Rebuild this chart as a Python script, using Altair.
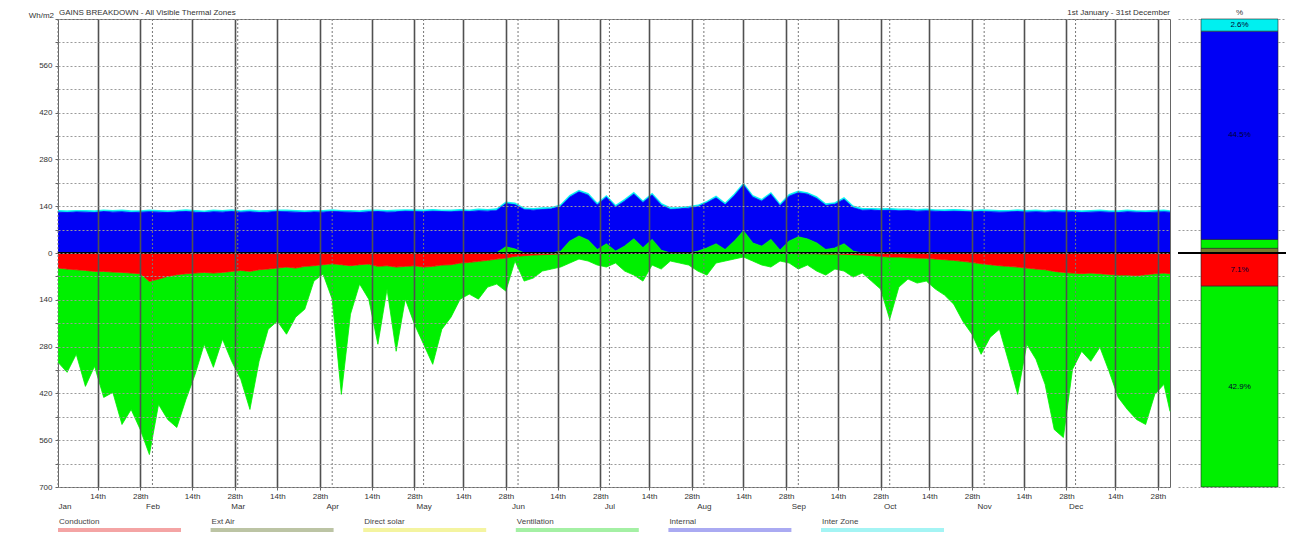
import altair as alt
import pandas as pd

FONT = "Liberation Sans"

title_text = "GAINS BREAKDOWN - All Visible Thermal Zones"
period_text = "1st January - 31st December"
unit_text = "Wh/m2"

month_names = ["Jan", "Feb", "Mar", "Apr", "May", "Jun", "Jul", "Aug", "Sep", "Oct", "Nov", "Dec"]
month_start_day = [0, 31, 59, 90, 120, 151, 181, 212, 243, 273, 304, 334]
tick_offsets = [13, 27]          # 14th and 28th of each month (day index)
tick_names = ["14th", "28th"]
y_tick_values = [-700, -630, -560, -490, -420, -350, -280, -210, -140, -70, 0,
                 70, 140, 210, 280, 350, 420, 490, 560, 630, 700]

# sample days (every third day of the year, plus the last day)
days = list(range(0, 364, 3)) + [365]

internal = [
    122, 121, 123, 122, 121, 124, 122, 123, 121, 122,
    123, 122, 121, 123, 124, 122, 121, 123, 122, 124,
    122, 123, 121, 122, 124, 123, 122, 121, 123, 122,
    124, 123, 122, 121, 123, 124, 122, 123, 125, 124,
    123, 125, 124, 123, 125, 124, 126, 125, 127, 130,
    132, 130, 128, 130, 132, 134, 132, 133, 135, 133,
    140, 132, 135, 134, 136, 133, 135, 130, 132, 134,
    133, 135, 138, 134, 136, 138, 137, 135, 136, 133,
    135, 132, 134, 133, 132, 131, 133, 130, 128, 129,
    127, 128, 126, 127, 125, 126, 125, 124, 125, 124,
    123, 124, 123, 122, 123, 124, 122, 123, 122, 123,
    122, 123, 121, 122, 123, 122, 121, 123, 122, 121,
    122, 123, 122]

inter_zone = [
    5, 5, 4, 5, 5, 4, 5, 5, 5, 4,
    5, 5, 5, 4, 5, 5, 4, 5, 5, 5,
    4, 5, 5, 5, 4, 5, 5, 5, 4, 5,
    5, 4, 5, 5, 5, 4, 5, 5, 4, 5,
    5, 5, 4, 5, 5, 4, 5, 5, 5, 4,
    5, 4, 5, 5, 4, 5, 5, 4, 5, 5,
    4, 5, 5, 5, 4, 5, 5, 5, 4, 5,
    5, 4, 5, 5, 5, 4, 5, 5, 4, 5,
    5, 5, 4, 5, 5, 4, 5, 5, 5, 4,
    5, 5, 5, 4, 5, 5, 4, 5, 5, 5,
    4, 5, 5, 5, 4, 5, 5, 5, 4, 5,
    5, 4, 5, 5, 5, 4, 5, 5, 4, 5,
    5, 5, 4]

ventilation_gain = [
    0, 0, 0, 0, 0, 0, 0, 0, 0, 0,
    0, 0, 0, 0, 0, 0, 0, 0, 0, 0,
    0, 0, 0, 0, 0, 0, 0, 0, 0, 0,
    0, 0, 0, 0, 0, 0, 0, 0, 0, 0,
    0, 0, 0, 0, 0, 0, 0, 0, 0, 18,
    12, 0, 0, 0, 0, 5, 35, 50, 38, 10,
    27, 5, 20, 42, 15, 40, 8, 0, 0, 0,
    5, 15, 27, 10, 35, 66, 30, 20, 40, 8,
    35, 48, 42, 30, 10, 15, 27, 5, 0, 0,
    0, 0, 0, 0, 0, 0, 0, 0, 0, 0,
    0, 0, 0, 0, 0, 0, 0, 0, 0, 0,
    0, 0, 0, 0, 0, 0, 0, 0, 0, 0,
    0, 0, 0]

# losses (magnitudes, drawn below zero)
conduction_loss = [
    45, 48, 50, 52, 55, 55, 57, 58, 60, 62,
    85, 78, 70, 65, 62, 60, 58, 60, 58, 55,
    52, 55, 50, 48, 45, 42, 45, 40, 38, 35,
    32, 35, 38, 35, 33, 40, 38, 42, 40, 38,
    42, 40, 36, 35, 30, 28, 25, 22, 18, 15,
    10, 8, 6, 5, 4, 3, 2, 2, 2, 1,
    1, 1, 1, 0, 0, 0, 0, 0, 0, 0,
    1, 0, 0, 0, 0, 0, 0, 0, 0, 1,
    1, 2, 2, 2, 3, 3, 4, 5, 6, 8,
    10, 12, 12, 14, 15, 16, 18, 20, 22, 25,
    28, 32, 35, 38, 40, 42, 45, 48, 50, 55,
    58, 60, 62, 60, 62, 64, 66, 66, 68, 65,
    62, 60, 62]

ventilation_loss = [
    282, 309, 253, 347, 284, 377, 360, 455, 408, 466,
    518, 375, 428, 457, 376, 303, 215, 282, 200, 269,
    326, 413, 274, 180, 159, 201, 147, 128, 46, 28,
    106, 388, 145, 58, 105, 233, 70, 252, 98, 175,
    231, 293, 192, 157, 108, 95, 113, 80, 75, 99,
    14, 76, 69, 49, 44, 39, 28, 16, 22, 35,
    41, 29, 53, 66, 84, 36, 48, 24, 30, 36,
    53, 66, 30, 24, 18, 12, 24, 36, 42, 23,
    29, 46, 34, 52, 63, 45, 50, 67, 54, 76,
    98, 186, 90, 64, 75, 68, 90, 106, 131, 179,
    215, 271, 217, 190, 284, 381, 228, 270, 343, 473,
    494, 288, 232, 264, 220, 290, 366, 402, 430, 448,
    361, 333, 412]

series_names = ["Ventilation gain", "Internal", "Inter Zone", "Conduction", "Ventilation loss"]
series_colors = ["#00f000", "#0000f5", "#00f0f0", "#ff0000", "#00f000"]

# right-hand percentage bar
bar_names = ["Ext Air", "Ventilation (gain)", "Internal", "Inter Zone", "Conduction", "Ventilation (loss)"]
bar_pct = [1.0, 1.9, 44.5, 2.6, -7.1, -42.9]
bar_order = [0, 1, 2, 3, 4, 5]
bar_colors = ["#7a7a2e", "#00f000", "#0000f5", "#00f0f0", "#ff0000", "#00f000"]

# bottom legend
legend_names = ["Conduction", "Ext Air", "Direct solar", "Ventilation", "Internal", "Inter Zone"]
legend_colors = ["#f4a4a4", "#bcc4a4", "#f4f4a0", "#a4f0a4", "#aaaaf2", "#a4f4f4"]

# ---------------- tables ----------------
pos_rows, neg_rows = [], []
for d, vg, it, iz, cl, vl in zip(days, ventilation_gain, internal, inter_zone,
                                 conduction_loss, ventilation_loss):
    pos_rows += [(d, "Ventilation gain", vg, 0), (d, "Internal", it, 1), (d, "Inter Zone", iz, 2)]
    neg_rows += [(d, "Conduction", -cl, 3), (d, "Ventilation loss", -vl, 4)]
df_pos = pd.DataFrame(pos_rows, columns=["day", "series", "value", "ord"])
df_neg = pd.DataFrame(neg_rows, columns=["day", "series", "value", "ord"])

tick_days = [m + o for m in month_start_day for o in tick_offsets]
first_days = [m + tick_offsets[0] for m in month_start_day]
tick_expr = ("indexof([" + ",".join(str(v) for v in first_days) + "], datum.value) >= 0 ? '"
             + tick_names[0] + "' : '" + tick_names[1] + "'")
month_expr = ("[" + ",".join("'" + m + "'" for m in month_names) + "][indexof(["
              + ",".join(str(v) for v in month_start_day) + "], datum.value)]")

W, H = 1112, 468
x_scale = alt.Scale(domain=[0, 365], nice=False, zero=False)
y_scale = alt.Scale(domain=[-700, 700], nice=False)

x_axis = alt.Axis(values=tick_days, labelExpr=tick_expr, grid=True, gridColor="#505050",
                  gridWidth=1.6, tickSize=3, tickColor="#666666", domain=False,
                  labelFontSize=8, labelColor="#333333", labelPadding=2, title=None,
                  zindex=1, labelFlush=False, labelFont=FONT)
month_axis = alt.Axis(values=month_start_day, labelExpr=month_expr, ticks=False, tickSize=0,
                      domain=False, grid=False, offset=15, labelPadding=0, labelFontSize=8,
                      labelColor="#333333", title=None, labelFlush=True, orient="bottom",
                      labelFont=FONT)
y_axis = alt.Axis(values=y_tick_values,
                  labelExpr="(datum.value % 140 == 0 && datum.value < 700) ? format(abs(datum.value), 'd') : ''",
                  grid=True, gridDash=[2, 2], gridColor="#9a9a9a", tickSize=3, tickColor="#666666",
                  domain=False, labelFontSize=8, labelColor="#333333", title=None,
                  minExtent=49, maxExtent=49, zindex=1, labelPadding=3, labelFont=FONT)

color = alt.Color("series:N", scale=alt.Scale(domain=series_names, range=series_colors), legend=None)
outline = {"color": "#0a0a30", "strokeWidth": 1.2, "strokeOpacity": 0.85}

pos = alt.Chart(df_pos).mark_area(line=outline, opacity=1).encode(
    x=alt.X("day:Q", scale=x_scale, axis=x_axis),
    y=alt.Y("value:Q", stack="zero", scale=y_scale, axis=y_axis),
    color=color, order=alt.Order("ord:Q"))
neg = alt.Chart(df_neg).mark_area(line={"color": "#063006", "strokeWidth": 1, "strokeOpacity": 0.8},
                                  opacity=1).encode(
    x=alt.X("day:Q", scale=x_scale, axis=None),
    y=alt.Y("value:Q", stack="zero", scale=y_scale, axis=y_axis),
    color=color, order=alt.Order("ord:Q"))

months_df = pd.DataFrame({"day": month_start_day, "month": month_names})
mrules = alt.Chart(months_df).mark_rule(color="#777777", strokeDash=[2, 2], strokeWidth=1).encode(
    x=alt.X("day:Q", scale=x_scale, axis=month_axis))

zero = alt.Chart(pd.DataFrame({"z": [0]})).mark_rule(color="#000000", strokeWidth=2).encode(
    y=alt.Y("z:Q", scale=y_scale, axis=y_axis))


def label(text, x, y, align):
    return alt.Chart(pd.DataFrame({"t": [text]})).mark_text(
        align=align, baseline="middle", fontSize=8, font=FONT, color="#333333").encode(
        text="t:N", x=alt.value(x), y=alt.value(y))


main = alt.layer(
    pos, neg, mrules, zero,
    label(title_text, 1, -6, "left"),
    label(unit_text, -4, -3, "right"),
    label(period_text, W, -6, "right"),
).resolve_axis(x="independent").properties(
    width=W, height=H, view=alt.ViewBackground(stroke="#666666"))

# ---------------- percentage bar ----------------
bar_df = pd.DataFrame({"segment": bar_names, "pct": bar_pct, "ord": bar_order,
                       "grp": ["all"] * len(bar_names)})
bx_scale = alt.Scale(paddingInner=0, paddingOuter=0.2013, align=0.742)
by_scale = alt.Scale(domain=[-50, 50], nice=False)
by_axis = alt.Axis(values=list(range(-50, 51, 5)), labels=False, ticks=False, domain=False,
                   grid=True, gridDash=[2, 2], gridColor="#9a9a9a", title=None,
                   minExtent=0, maxExtent=0)

bar_base = alt.Chart(bar_df).transform_stack(
    stack="pct", groupby=["grp"], as_=["y0", "y1"],
    sort=[alt.SortField(field="ord", order="ascending")]
).transform_calculate(
    mid="(datum.y0 + datum.y1) / 2",
    lab="abs(datum.pct) >= 2 ? format(abs(datum.pct), '.1f') + '%' : ''")

bars = bar_base.mark_bar(stroke="#222222", strokeWidth=0.6).encode(
    x=alt.X("grp:N", axis=None, scale=bx_scale),
    y=alt.Y("y0:Q", scale=by_scale, axis=by_axis), y2="y1:Q",
    color=alt.Color("segment:N", scale=alt.Scale(domain=bar_names, range=bar_colors), legend=None))
bar_text = bar_base.mark_text(fontSize=8, font=FONT, color="#000033").encode(
    x=alt.X("grp:N", axis=None, scale=bx_scale),
    y=alt.Y("mid:Q", scale=by_scale, axis=by_axis), text="lab:N")
bar_zero = alt.Chart(pd.DataFrame({"z": [0]})).mark_rule(color="#000000", strokeWidth=2).encode(
    y=alt.Y("z:Q", scale=by_scale, axis=by_axis))
pct_title = alt.Chart(pd.DataFrame({"grp": ["all"], "t": ["%"]})).mark_text(
    fontSize=8, font=FONT, color="#333333", baseline="middle").encode(
    x=alt.X("grp:N", axis=None, scale=bx_scale), y=alt.value(-6), text="t:N")

bar = alt.layer(bars, bar_zero, bar_text, pct_title).properties(
    width=108, height=H, view=alt.ViewBackground(stroke="transparent"))

# ---------------- legend ----------------
leg_df = pd.DataFrame({"entry": legend_names, "i": list(range(len(legend_names)))})
lx = alt.Scale(domain=[0, 7.287], nice=False, zero=False)
leg_base = alt.Chart(leg_df).transform_calculate(i2="datum.i + 0.806")
leg_lines = leg_base.mark_rule(strokeWidth=4).encode(
    x=alt.X("i:Q", scale=lx, axis=None), x2="i2:Q", y=alt.value(11),
    color=alt.Color("entry:N", scale=alt.Scale(domain=legend_names, range=legend_colors), legend=None))
leg_text = leg_base.mark_text(align="left", baseline="middle", dx=1, fontSize=8, font=FONT,
                              color="#444444").encode(
    x=alt.X("i:Q", scale=lx, axis=None), y=alt.value(3), text="entry:N")
legend = alt.layer(leg_lines, leg_text).properties(
    width=W, height=16, view=alt.ViewBackground(stroke="transparent"))

chart = alt.concat(
    main, bar, legend, columns=2, align="each",
    spacing=alt.RowColnumber(row=6, column=3)
).resolve_scale(
    x="independent", y="independent", color="independent"
).properties(
    padding={"left": 0, "top": 0, "right": 0, "bottom": 0}
).configure(font=FONT)

chart.save("out.html", embed_options={"renderer": "svg", "actions": False})
